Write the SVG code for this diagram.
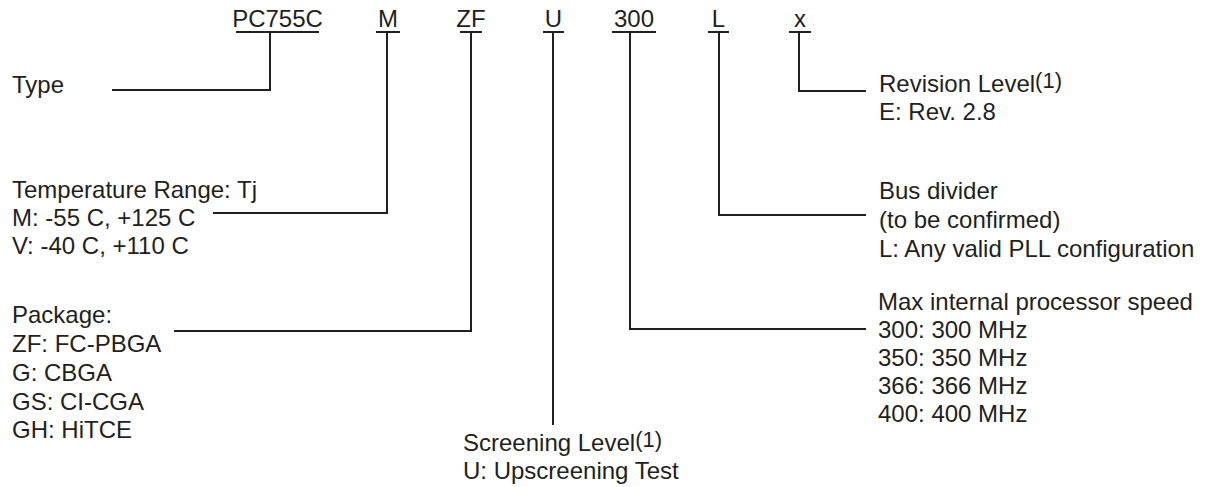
<svg xmlns="http://www.w3.org/2000/svg" width="1205" height="487" viewBox="0 0 1205 487">
<style>
text{font-family:"Liberation Sans",Arial,sans-serif;font-size:24px;fill:#231f20}
.c{text-anchor:middle}
.sup{font-size:22px}
line,polyline{stroke:#231f20;stroke-width:2;fill:none}
</style>
<rect width="1205" height="487" fill="#fff"/>
<g id="code">
<text class="c" x="277.5" y="27">PC755C</text>
<text class="c" x="388" y="27">M</text>
<text class="c" x="471" y="27">ZF</text>
<text class="c" x="553.5" y="27">U</text>
<text class="c" x="634" y="27">300</text>
<text class="c" x="718.5" y="27">L</text>
<text class="c" x="800" y="27">x</text>
</g>
<g id="connectors">
<line x1="236" y1="32" x2="319" y2="32"/>
<line x1="376" y1="32" x2="400" y2="32"/>
<line x1="460" y1="32" x2="482" y2="32"/>
<line x1="543" y1="32" x2="564" y2="32"/>
<line x1="612" y1="32" x2="656" y2="32"/>
<line x1="708" y1="32" x2="729" y2="32"/>
<line x1="789" y1="32" x2="811" y2="32"/>
<polyline points="270,32 270,90 112,90"/>
<polyline points="387,32 387,213 213,213"/>
<polyline points="471,32 471,331 174,331"/>
<line x1="553" y1="32" x2="553" y2="425"/>
<polyline points="630,32 630,329 866,329"/>
<polyline points="719,32 719,215 866,215"/>
<polyline points="799,32 799,91 866,91"/>
</g>
<g id="type">
<text x="12" y="93">Type</text>
</g>
<g id="temperature">
<text x="12" y="198">Temperature Range: Tj</text>
<text x="12" y="226">M: -55 C, +125 C</text>
<text x="12" y="254">V: -40 C, +110 C</text>
</g>
<g id="package">
<text x="12" y="323">Package:</text>
<text x="12" y="352">ZF: FC-PBGA</text>
<text x="12" y="381">G: CBGA</text>
<text x="12" y="410">GS: CI-CGA</text>
<text x="12" y="438">GH: HiTCE</text>
</g>
<g id="screening">
<text x="463" y="451">Screening Level<tspan class="sup" dy="-4">(1)</tspan></text>
<text x="463" y="479">U: Upscreening Test</text>
</g>
<g id="speed">
<text x="878" y="310">Max internal processor speed</text>
<text x="878" y="338">300: 300 MHz</text>
<text x="878" y="366">350: 350 MHz</text>
<text x="878" y="394">366: 366 MHz</text>
<text x="878" y="422">400: 400 MHz</text>
</g>
<g id="bus">
<text x="879" y="199">Bus divider</text>
<text x="879" y="228">(to be confirmed)</text>
<text x="879" y="257">L: Any valid PLL configuration</text>
</g>
<g id="revision">
<text x="879" y="92">Revision Level<tspan class="sup" dy="-4">(1)</tspan></text>
<text x="879" y="120">E: Rev. 2.8</text>
</g>
</svg>
